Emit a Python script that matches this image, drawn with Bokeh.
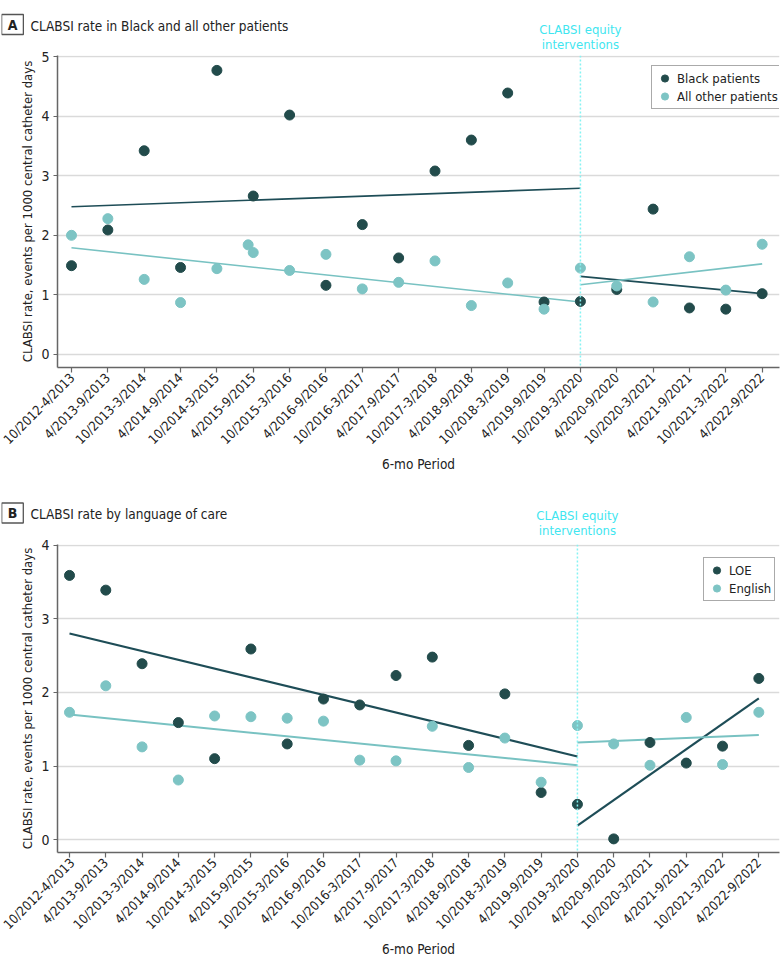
import math
from bokeh.plotting import figure
from bokeh.models import Range1d, FixedTicker, Span, Label, Legend, LegendItem
from bokeh.layouts import column, row
from bokeh.embed import file_html
from bokeh.resources import INLINE

# ---------------- data ----------------
periods = ["10/2012-4/2013", "4/2013-9/2013", "10/2013-3/2014", "4/2014-9/2014",
           "10/2014-3/2015", "4/2015-9/2015", "10/2015-3/2016", "4/2016-9/2016",
           "10/2016-3/2017", "4/2017-9/2017", "10/2017-3/2018", "4/2018-9/2018",
           "10/2018-3/2019", "4/2019-9/2019", "10/2019-3/2020", "4/2020-9/2020",
           "10/2020-3/2021", "4/2021-9/2021", "10/2021-3/2022", "4/2022-9/2022"]
period_idx = list(range(len(periods)))
intervention_idx = 14

# Panel A
black_rate = [1.49, 2.09, 3.42, 1.46, 4.77, 2.66, 4.02, 1.16, 2.18, 1.62,
              3.08, 3.60, 4.39, 0.88, 0.89, 1.09, 2.44, 0.78, 0.76, 1.02]
other_x = [0, 1, 2, 3, 4, 4.86, 5, 6, 7, 8, 9, 10, 11, 12, 13, 14, 15, 16, 17, 18, 19]
other_rate = [2.00, 2.28, 1.26, 0.87, 1.44, 1.84, 1.71, 1.41, 1.68, 1.10, 1.21,
              1.57, 0.82, 1.20, 0.76, 1.45, 1.15, 0.88, 1.64, 1.08, 1.85]
black_pre_x, black_pre_y = [0, 14], [2.48, 2.79]
black_post_x, black_post_y = [14, 19], [1.31, 1.02]
other_pre_x, other_pre_y = [0, 14], [1.79, 0.88]
other_post_x, other_post_y = [14, 19], [1.17, 1.52]

# Panel B
loe_rate = [3.59, 3.39, 2.39, 1.59, 1.10, 2.59, 1.30, 1.91, 1.83, 2.23,
            2.48, 1.28, 1.98, 0.64, 0.48, 0.01, 1.32, 1.04, 1.27, 2.19]
eng_rate = [1.73, 2.09, 1.26, 0.81, 1.68, 1.67, 1.65, 1.61, 1.08, 1.07,
            1.54, 0.98, 1.38, 0.78, 1.55, 1.30, 1.01, 1.66, 1.02, 1.73]
loe_pre_x, loe_pre_y = [0, 14], [2.80, 1.13]
loe_post_x, loe_post_y = [14, 19], [0.19, 1.92]
eng_pre_x, eng_pre_y = [0, 14], [1.70, 1.01]
eng_post_x, eng_post_y = [14, 19], [1.32, 1.42]

# ---------------- style ----------------
FONT = "DejaVu Sans Condensed"
DARK = "#224b4b"
LIGHT = "#7dc4c4"
DARK_LINE = "#1e4d57"
LIGHT_LINE = "#78c2c2"
CYAN_TEXT = "#3fe6f0"
CYAN_LINE = "#86f3f3"
TEXT = "#222222"
AXIS = "#666666"
FIG_W = 781
FRAME_L = 57
FRAME_R = 2
FRAME_W = FIG_W - FRAME_L - FRAME_R
HDR_SHIFT = 1
OVERLAP = 6
YLABEL = "CLABSI rate, events per 1000 central catheter days"


def make_header(letter, title, height, box_y, title_y, anno_y, xr):
    w = FIG_W - HDR_SHIFT
    h = figure(width=w, height=height, output_backend="svg", toolbar_location=None,
               x_range=Range1d(HDR_SHIFT, FIG_W), y_range=Range1d(height, 0),
               x_axis_type=None, y_axis_type=None, min_border=0)
    h.margin = (0, 0, 0, HDR_SHIFT)
    h.outline_line_color = None
    h.grid.visible = False
    h.add_layout(Label(x=12, y=box_y, text=letter, text_align="center",
                       text_baseline="middle", text_font=FONT, text_font_size="14px",
                       text_font_style="bold", text_color=TEXT,
                       border_line_color="#555555", border_line_width=1.3,
                       background_fill_color="white",
                       padding=dict(left=6, right=6, top=2, bottom=2)))
    h.add_layout(Label(x=30, y=title_y, text=title, text_align="left",
                       text_baseline="middle", text_font=FONT, text_font_size="13.5px",
                       text_color=TEXT))
    ax = FRAME_L + (intervention_idx - xr[0]) / (xr[1] - xr[0]) * FRAME_W
    h.add_layout(Label(x=ax, y=anno_y, text="CLABSI equity\ninterventions",
                       text_align="center", text_baseline="middle", text_font=FONT,
                       text_font_size="13px", text_color=CYAN_TEXT,
                       text_line_height=1.0))
    return row(h)


def make_panel(height, top, bottom, xr, yr, yticks, series, trends, legend_pos):
    p = figure(width=FIG_W, height=height, output_backend="svg", toolbar_location=None,
               x_range=Range1d(*xr), y_range=Range1d(*yr),
               min_border_left=FRAME_L, min_border_right=FRAME_R,
               min_border_top=top, min_border_bottom=bottom)
    p.margin = (-OVERLAP, 0, 0, 0)
    p.border_fill_alpha = 0
    p.outline_line_color = None
    p.xgrid.grid_line_color = None
    p.ygrid.grid_line_color = "#dadada"
    p.ygrid.grid_line_width = 1.5
    p.yaxis.ticker = FixedTicker(ticks=yticks)
    p.xaxis.ticker = FixedTicker(ticks=period_idx)
    p.xaxis.major_label_overrides = {i: s for i, s in enumerate(periods)}
    p.xaxis.major_label_orientation = math.pi / 4
    for ax in (p.xaxis, p.yaxis):
        ax.axis_line_color = AXIS
        ax.axis_line_width = 1.5
        ax.major_tick_line_color = AXIS
        ax.major_tick_line_width = 1.2
        ax.major_tick_in = 0
        ax.minor_tick_line_color = None
        ax.major_label_text_font = FONT
        ax.major_label_text_color = TEXT
        ax.major_label_text_font_size = "14px"
        ax.axis_label_text_font = FONT
        ax.axis_label_text_color = TEXT
        ax.axis_label_text_font_style = "normal"
        ax.axis_label_text_font_size = "13.5px"
    p.yaxis.axis_label_text_font_size = "13px"
    p.xaxis.major_label_text_font_size = "13px"
    p.xaxis.major_tick_out = 5
    p.yaxis.major_tick_out = 4
    p.xaxis.major_label_standoff = 3
    p.yaxis.major_label_standoff = 4
    p.xaxis.axis_label = "6-mo Period"
    p.yaxis.axis_label = YLABEL
    p.xaxis.axis_label_standoff = 0
    p.yaxis.axis_label_standoff = 3

    p.add_layout(Span(location=intervention_idx, dimension="height", line_color=CYAN_LINE,
                      line_dash="2 2", line_width=1.5))

    for (tx, ty, col, w) in trends:
        p.line(tx, ty, line_color=col, line_width=w)

    items = []
    for (sx, sy, col, name) in series:
        r = p.scatter(sx, sy, size=10, fill_color=col, line_color=col, marker="circle")
        items.append(LegendItem(label=name, renderers=[r]))

    legend = Legend(items=items, location=legend_pos, margin=0, padding=3, spacing=0,
                    border_line_color="#555555", border_line_width=1.3,
                    label_text_font=FONT, label_text_font_size="13px",
                    label_text_color=TEXT, glyph_width=19, glyph_height=18,
                    label_height=16, label_standoff=3, background_fill_alpha=1)
    p.add_layout(legend)
    return p


XR_A = (-0.385, 19.477)
XR_B = (-0.331, 19.57)

hA = make_header("A", "CLABSI rate in Black and all other patients", 54, 24, 25, 36.8, XR_A)
pA = make_panel(438, 7, 119, XR_A, (-0.22, 5.02), [0, 1, 2, 3, 4, 5],
                [(period_idx, black_rate, DARK, "Black patients"),
                 (other_x, other_rate, LIGHT, "All other patients")],
                [(black_pre_x, black_pre_y, DARK_LINE, 1.6),
                 (black_post_x, black_post_y, DARK_LINE, 1.6),
                 (other_pre_x, other_pre_y, LIGHT_LINE, 1.6),
                 (other_post_x, other_post_y, LIGHT_LINE, 1.6)],
                (594, 258))

hB = make_header("B", "CLABSI rate by language of care", 56, 26.5, 27.7, 36.3, XR_B)
pB = make_panel(428, 8, 112, XR_B, (-0.175, 4.01), [0, 1, 2, 3, 4],
                [(period_idx, loe_rate, DARK, "LOE"),
                 (period_idx, eng_rate, LIGHT, "English")],
                [(loe_pre_x, loe_pre_y, DARK_LINE, 2.2),
                 (loe_post_x, loe_post_y, DARK_LINE, 2.2),
                 (eng_pre_x, eng_pre_y, LIGHT_LINE, 2.0),
                 (eng_post_x, eng_post_y, LIGHT_LINE, 2.0)],
                (646, 251))

layout = column(hA, pA, hB, pB, spacing=0)
open("out.html", "w").write(file_html(layout, INLINE))
